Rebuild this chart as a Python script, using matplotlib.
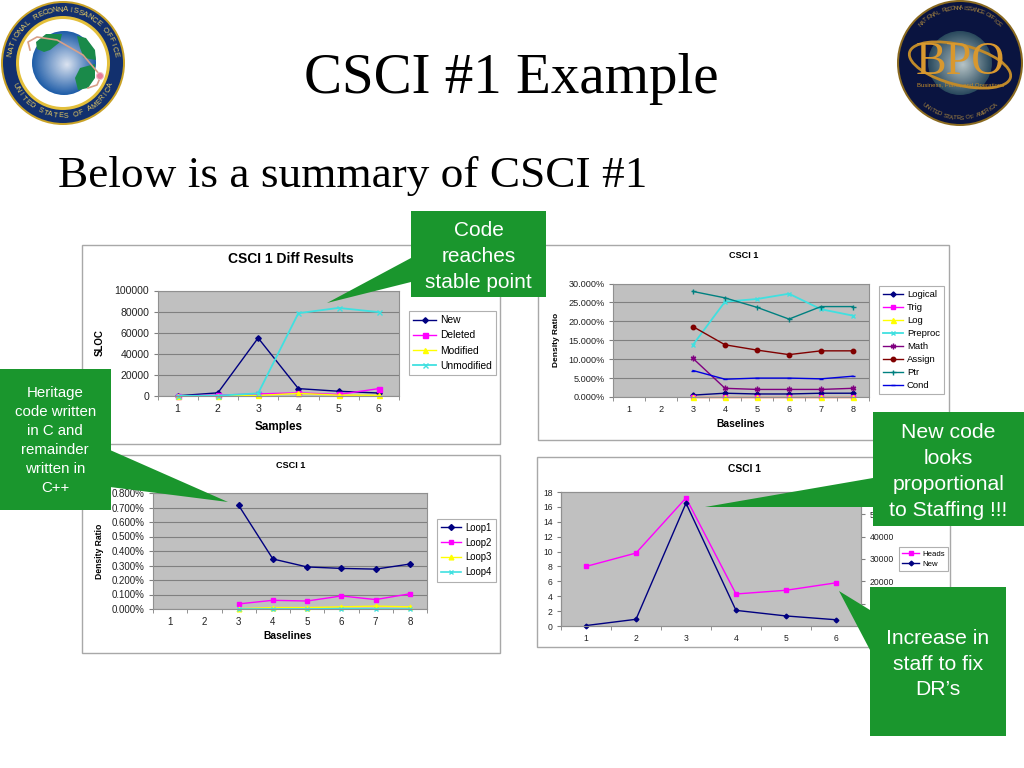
import numpy as np
import matplotlib
matplotlib.use("Agg")
import matplotlib.pyplot as plt
from matplotlib.patches import Rectangle, Polygon, Circle, Ellipse

plt.rcParams['font.family'] = ['Liberation Sans', 'DejaVu Sans']

W, H = 1024, 768

# ── Data ────────────────────────────────────────────────────
samples = [1, 2, 3, 4, 5, 6]
new_sloc = [200, 3000, 55000, 7000, 4500, 2800]
deleted_sloc = [100, 800, 2000, 3000, 1500, 7000]
modified_sloc = [50, 200, 500, 2500, 800, 700]
unmodified_sloc = [100, 300, 2500, 78500, 83500, 79500]

baselines = [3, 4, 5, 6, 7, 8]
logical = [0.5, 1.0, 0.8, 0.8, 1.0, 1.0]
trig = [0.0, 0.0, 0.0, 0.0, 0.0, 0.0]
log_ratio = [0.1, 0.1, 0.1, 0.1, 0.1, 0.1]
preproc = [13.8, 25.2, 25.9, 27.3, 23.2, 21.5]
math_ratio = [10.2, 2.3, 2.0, 2.0, 2.0, 2.3]
assign = [18.6, 13.8, 12.4, 11.2, 12.2, 12.2]
ptr = [27.9, 26.2, 23.7, 20.6, 23.9, 23.9]
cond = [7.0, 4.7, 5.0, 5.0, 4.8, 5.5]

loop1 = [0.715, 0.345, 0.29, 0.28, 0.275, 0.31]
loop2 = [0.035, 0.06, 0.055, 0.09, 0.065, 0.105]
loop3 = [0.002, 0.01, 0.01, 0.015, 0.02, 0.015]
loop4 = [0.0, 0.0, 0.0, 0.002, 0.0, 0.0]

heads = [8.0, 9.8, 17.2, 4.3, 4.8, 5.8]

NAVY, MAG, YEL, CYAN = '#000080', '#ff00ff', '#ffff00', '#40e0e0'
PUR, MAROON, TEAL, BLUE = '#800080', '#800000', '#008080', '#0000e0'
GREEN = '#1a962d'
BORDER = '#a8a8a8'


# ── Helpers ─────────────────────────────────────────────────
def px_axes(x0, y0, x1, y1, **kw):
    return fig.add_axes([x0 / W, 1 - y1 / H, (x1 - x0) / W, (y1 - y0) / H], **kw)


def style_axes(ax, n, size):
    ax.set_facecolor('#c0c0c0')
    ax.set_xlim(0.5, n + 0.5)
    ax.set_xticks(np.arange(1, n + 1))
    ax.set_xticks(np.arange(0.5, n + 1), minor=True)
    ax.tick_params(axis='x', which='major', length=0, labelsize=size, pad=6, colors='#222222')
    ax.tick_params(axis='x', which='minor', length=3, color='#808080')
    ax.tick_params(axis='y', length=3, labelsize=size, color='#808080', labelcolor='#222222', pad=3)
    ax.grid(axis='y', color='#808080', lw=0.8)
    ax.set_axisbelow(True)
    for s in ax.spines.values():
        s.set_color('#909090')
        s.set_linewidth(0.8)


def make_legend(ax, box, size, handles=None, spacing=0.5, hlen=2.4):
    x0, y0, x1, y1 = box
    leg = ax.legend(handles=handles, loc='center',
                    bbox_to_anchor=((x0 + x1) / 2 / W, 1 - (y0 + y1) / 2 / H),
                    bbox_transform=fig.transFigure, fontsize=size, fancybox=False,
                    framealpha=1, facecolor='white', edgecolor='#b0b0b0',
                    borderpad=0.45, labelspacing=spacing, handlelength=hlen, handletextpad=0.4)
    leg.get_frame().set_linewidth(0.8)
    leg.set_zorder(10)
    return leg


def callout(box, tail, lines, size, spacing):
    x0, y0, x1, y1 = box
    over.add_patch(Rectangle((x0, y0), x1 - x0, y1 - y0, fc=GREEN, ec='none', zorder=3))
    over.add_patch(Polygon(tail, fc=GREEN, ec='none', zorder=3))
    over.text((x0 + x1) / 2, lines[1], lines[0], color='white', fontsize=size, ha='center',
              va='center', linespacing=spacing, zorder=4)


def arc_text(text, cx, cy, r, a0, a1, size, color, top=True):
    for ch, a in zip(text, np.linspace(a0, a1, len(text))):
        t = np.radians(a)
        rot = a - 90 if top else a + 90
        over.text(cx + r * np.cos(t), cy - r * np.sin(t), ch, fontsize=size, color=color,
                  rotation=rot, ha='center', va='center', zorder=4)


def globe(cx, cy, r, inner, outer):
    c0, c1 = np.array(matplotlib.colors.to_rgb(inner)), np.array(matplotlib.colors.to_rgb(outer))
    for f in np.linspace(1, 0.03, 30):
        over.add_patch(Circle((cx + (1 - f) * r * 0.1, cy + (1 - f) * r * 0.05), r * f,
                              fc=c0 + (c1 - c0) * f, ec='none', zorder=2))


fig = plt.figure(figsize=(W / 100, H / 100), dpi=100, facecolor='white')

# panels behind the charts
back = px_axes(0, 0, W, H, zorder=0)
back.set_xlim(0, W)
back.set_ylim(H, 0)
back.axis('off')
for x0, y0, x1, y1 in [(82, 245, 500, 444), (538, 245, 949, 440), (82, 455, 500, 653), (537, 457, 950, 647)]:
    back.add_patch(Rectangle((x0, y0), x1 - x0, y1 - y0, fc='white', ec=BORDER, lw=1))
back.text(291, 259, 'CSCI 1 Diff Results', fontsize=10, fontweight='bold', ha='center', va='center')
back.text(744, 256, 'CSCI 1', fontsize=6.6, fontweight='bold', ha='center', va='center')
back.text(291, 465, 'CSCI 1', fontsize=6.6, fontweight='bold', ha='center', va='center')
back.text(744, 469, 'CSCI 1', fontsize=7.4, fontweight='bold', ha='center', va='center')
back.text(100, 343, 'SLOC', fontsize=7, fontweight='bold', rotation=90, ha='center', va='center')
back.text(279, 427, 'Samples', fontsize=8.4, fontweight='bold', ha='center', va='center')
back.text(557, 340, 'Density Ratio', fontsize=6, fontweight='bold', rotation=90, ha='center', va='center')
back.text(741, 424, 'Baselines', fontsize=7.4, fontweight='bold', ha='center', va='center')
back.text(100, 551, 'Density Ratio', fontsize=6.2, fontweight='bold', rotation=90, ha='center', va='center')
back.text(288, 636, 'Baselines', fontsize=7.4, fontweight='bold', ha='center', va='center')

# ── Chart 1 ─────────────────────────────────────────────────
ax1 = px_axes(157.5, 290.5, 399, 396, zorder=1)
style_axes(ax1, 6, 7.6)
ax1.plot(samples, new_sloc, color=NAVY, marker='D', ms=2.8, lw=1, label='New', clip_on=False)
ax1.plot(samples, deleted_sloc, color=MAG, marker='s', ms=3.6, lw=1, label='Deleted', clip_on=False)
ax1.plot(samples, modified_sloc, color=YEL, marker='^', ms=3.6, lw=1, label='Modified', clip_on=False)
ax1.plot(samples, unmodified_sloc, color=CYAN, marker='x', ms=3.6, lw=1.3, label='Unmodified', clip_on=False)
ax1.set_ylim(0, 100000)
ax1.set_yticks(range(0, 100001, 20000))
make_legend(ax1, (408, 312, 497, 374), 7.4, hlen=2.2)

# ── Chart 2 ─────────────────────────────────────────────────
ax2 = px_axes(613, 283.5, 869, 397, zorder=1)
style_axes(ax2, 8, 6.6)
ax2.plot(baselines, logical, color=NAVY, marker='D', ms=2.6, lw=1, label='Logical', clip_on=False)
ax2.plot(baselines, trig, color=MAG, marker='s', ms=2.6, lw=1, label='Trig', clip_on=False)
ax2.plot(baselines, log_ratio, color=YEL, marker='^', ms=3.6, lw=1, label='Log', clip_on=False)
ax2.plot(baselines, preproc, color=CYAN, marker='x', ms=3.4, lw=1.3, label='Preproc', clip_on=False)
ax2.plot(baselines, math_ratio, color=PUR, marker=(6, 2, 0), ms=4, lw=1, label='Math', clip_on=False)
ax2.plot(baselines, assign, color=MAROON, marker='o', ms=3.2, lw=1, label='Assign', clip_on=False)
ax2.plot(baselines, ptr, color=TEAL, marker='+', ms=3.6, lw=1, label='Ptr', clip_on=False)
ax2.plot(baselines, cond, color=BLUE, marker='_', ms=3, lw=1, label='Cond', clip_on=False)
ax2.set_ylim(0, 30)
ax2.set_yticks(range(0, 31, 5))
ax2.set_yticklabels([f'{v:.3f}%' for v in range(0, 31, 5)])
make_legend(ax2, (879, 283, 944, 397), 6.8, spacing=0.42, hlen=2.1)

# ── Chart 3 ─────────────────────────────────────────────────
ax3 = px_axes(153, 493, 427, 609, zorder=1)
style_axes(ax3, 8, 7)
ax3.plot(baselines, loop1, color=NAVY, marker='D', ms=3, lw=1, label='Loop1', clip_on=False)
ax3.plot(baselines, loop2, color=MAG, marker='s', ms=3.4, lw=1, label='Loop2', clip_on=False)
ax3.plot(baselines, loop3, color=YEL, marker='^', ms=3.4, lw=1, label='Loop3', clip_on=False)
ax3.plot(baselines, loop4, color=CYAN, marker='x', ms=3.4, lw=1.2, label='Loop4', clip_on=False)
ax3.set_ylim(0, 0.8)
ax3.set_yticks(np.arange(0, 0.81, 0.1))
ax3.set_yticklabels([f'{v:.3f}%' for v in np.arange(0, 0.81, 0.1)])
make_legend(ax3, (436, 521, 497, 579), 6.9, hlen=2.1)

# ── Chart 4 ─────────────────────────────────────────────────
ax4 = px_axes(561, 492, 861, 626, zorder=1)
style_axes(ax4, 6, 6.2)
l_heads, = ax4.plot(samples, heads, color=MAG, marker='s', ms=2.2, lw=1, label='Heads', clip_on=False)
ax4.set_ylim(0, 18)
ax4.set_yticks(range(0, 19, 2))
ax4.grid(False)
ax4r = ax4.twinx()
l_new, = ax4r.plot(samples, new_sloc, color=NAVY, marker='D', ms=2.4, lw=1, label='New', clip_on=False)
ax4r.set_ylim(0, 60000)
# the top and bottom labels sit under the callouts in the slide
ax4r.set_yticks(range(10000, 50001, 10000))
ax4r.tick_params(axis='y', length=3, labelsize=6.2, color='#808080', labelcolor='#222222', pad=3)
for s in ax4r.spines.values():
    s.set_color('#909090')
    s.set_linewidth(0.8)
make_legend(ax4r, (898, 547, 949, 571), 5.6, handles=[l_heads, l_new], spacing=0.35, hlen=2.1)

# ── Overlay: titles, callouts, seals ────────────────────────
over = px_axes(0, 0, W, H, zorder=5)
over.set_xlim(0, W)
over.set_ylim(H, 0)
over.axis('off')
over.patch.set_alpha(0)

over.text(511.5, 79, 'CSCI #1 Example', fontsize=41, family=['Liberation Serif'], ha='center', va='center')
over.text(58, 176, 'Below is a summary of CSCI #1', fontsize=32.6, family=['Liberation Serif'], ha='left', va='center')

callout((411, 211, 546, 297), [(411, 258), (411, 282), (327, 303)], ('Code\nreaches\nstable point', 256.5), 15, 1.45)
callout((0, 369, 110.5, 510), [(110, 450), (110, 487), (228, 502)], ('Heritage\ncode written\nin C and\nremainder\nwritten in\nC++', 440.5), 10.8, 1.45)
callout((873, 412, 1024, 526), [(873, 478), (873, 507), (705, 507)], ('New code\nlooks\nproportional\nto Staffing !!!', 471.5), 15.3, 1.46)
callout((870, 587, 1006, 736), [(870, 610), (870, 650), (839, 591)], ('Increase in\nstaff to fix\nDR\u2019s', 664), 15.2, 1.45)

# left seal
over.add_patch(Circle((63, 63), 62, fc='#c9a227', ec='none', zorder=1))
over.add_patch(Circle((63, 63), 60, fc='#12306e', ec='none', zorder=1))
over.add_patch(Circle((63, 63), 47, fc='#e3bf3a', ec='none', zorder=1))
over.add_patch(Circle((63, 63), 44, fc='white', ec='none', zorder=1))
globe(64, 63, 32, '#dfe6f2', '#1f5da8')
over.add_patch(Polygon([(36, 42), (46, 34), (62, 34), (60, 42), (50, 50), (44, 52), (37, 49)], fc='#1a8a4a', ec='none', zorder=3))
over.add_patch(Polygon([(77, 36), (86, 38), (95, 50), (96, 60), (84, 58), (80, 48)], fc='#1a8a4a', ec='none', zorder=3))
over.add_patch(Polygon([(80, 68), (95, 64), (95, 78), (88, 88), (78, 90), (75, 78)], fc='#1a8a4a', ec='none', zorder=3))
over.plot([100, 83, 57, 37, 28, 30], [75, 55, 40, 37, 42, 50], color='#d8a088', lw=1.2, zorder=4)
over.plot([100, 97, 88], [78, 85, 88], color='#d8a088', lw=1.2, zorder=4)
over.add_patch(Circle((100, 76), 3.5, fc='#e87a9a', ec='#f0c0c8', lw=0.8, zorder=5))
arc_text('NATIONAL RECONNAISSANCE OFFICE', 63, 63, 53, 170, 10, 5.6, '#e8cc60')
arc_text('UNITED STATES OF AMERICA', 63, 63, 53, 205, 335, 5.2, '#e8cc60', top=False)

# right seal
over.add_patch(Circle((960, 63), 63, fc='#8a6a20', ec='none', zorder=1))
over.add_patch(Circle((960, 63), 61, fc='#0a1440', ec='none', zorder=1))
globe(960, 63, 32, '#b9c6c8', '#2a4a5e')
over.add_patch(Ellipse((960, 65), 104, 40, angle=14, fc='none', ec='#c08a2a', lw=2, zorder=3))
over.text(960, 63, 'BPO', fontsize=33, family=['Liberation Serif'], color='#d8982f', ha='center', va='center', zorder=4)
over.text(961, 86, 'Business, Plans, and Operations', fontsize=4.3, color='#c08a2a', ha='center', va='center', zorder=4)
arc_text('NATIONAL RECONNAISSANCE OFFICE', 960, 63, 55, 135, 45, 4.4, '#a8853f')
arc_text('UNITED STATES OF AMERICA', 960, 63, 55, 230, 310, 4.4, '#a8853f', top=False)

fig.savefig('out.png', dpi=100, facecolor='white')
